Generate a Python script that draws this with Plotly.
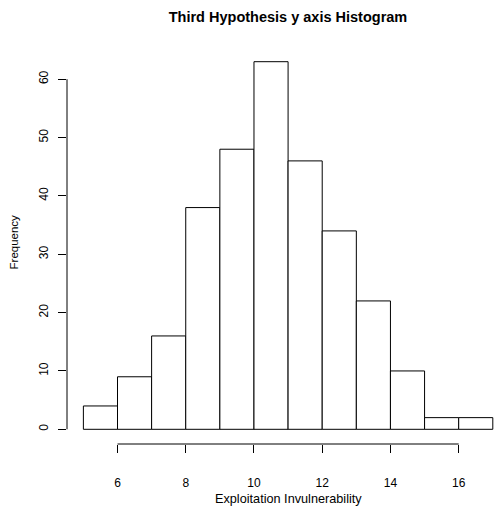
import plotly.graph_objects as go

bin_starts = [5, 6, 7, 8, 9, 10, 11, 12, 13, 14, 15, 16]
counts = [4, 9, 16, 38, 48, 63, 46, 34, 22, 10, 2, 2]
bin_width = 1
x_ticks = [6, 8, 10, 12, 14, 16]
y_ticks = [0, 10, 20, 30, 40, 50, 60]

W, H = 501, 511
L, T, B = 66.8, 46.8, 67.3
FONT = "Liberation Sans, Arial, Helvetica, sans-serif"

centers = [s + bin_width / 2 for s in bin_starts]

fig = go.Figure()
fig.add_trace(go.Bar(
    x=centers, y=counts, width=bin_width,
    marker=dict(color="white", line=dict(color="black", width=1)),
    hoverinfo="x+y",
))

fig.update_layout(
    width=W, height=H,
    margin=dict(l=L, r=0, t=T, b=B, pad=0),
    plot_bgcolor="white", paper_bgcolor="white",
    showlegend=False,
    font=dict(family=FONT, size=12, color="black"),
    title=dict(text="<b>Third Hypothesis y axis Histogram</b>",
               x=288 / W, xref="container", xanchor="center",
               y=1 - 17 / H, yref="container", yanchor="middle",
               font=dict(size=14.5, family=FONT, color="black")),
    xaxis=dict(range=[4.52, 17.24], tickvals=x_ticks, ticks="outside", ticklen=8,
               tickcolor="black", tickwidth=1, showgrid=False, zeroline=False,
               showline=False, ticklabelstandoff=20, tickfont=dict(size=12)),
    yaxis=dict(range=[-2.52, 65.52], tickvals=y_ticks, ticks="outside", ticklen=8,
               tickcolor="black", tickwidth=1, showgrid=False, zeroline=False,
               showline=False, tickangle=-90, ticklabelstandoff=5,
               tickfont=dict(size=12)),
    shapes=[
        dict(type="line", xref="x", yref="paper", x0=x_ticks[0], x1=x_ticks[-1],
             y0=0, y1=0, line=dict(color="black", width=1)),
        dict(type="line", xref="paper", yref="y", x0=0, x1=0,
             y0=y_ticks[0], y1=y_ticks[-1], line=dict(color="black", width=1)),
    ],
    annotations=[
        dict(text="Exploitation Invulnerability", xref="paper", yref="paper",
             x=(288 - L) / (W - L), y=-(499 - (H - B)) / (H - T - B),
             xanchor="center", yanchor="middle", showarrow=False,
             font=dict(size=12.7)),
        dict(text="Frequency", xref="paper", yref="paper",
             x=-(L - 14) / (W - L), y=(H - B - 242) / (H - T - B), textangle=-90,
             xanchor="center", yanchor="middle", showarrow=False,
             font=dict(size=11.5)),
    ],
)

fig.write_html("out.html", config={"displayModeBar": False})

with open("out.html", "r", encoding="utf-8") as f:
    html = f.read()
html = html.replace("<head>", "<head><style>html,body{margin:0;padding:0;overflow:hidden;}</style>", 1)
with open("out.html", "w", encoding="utf-8") as f:
    f.write(html)
